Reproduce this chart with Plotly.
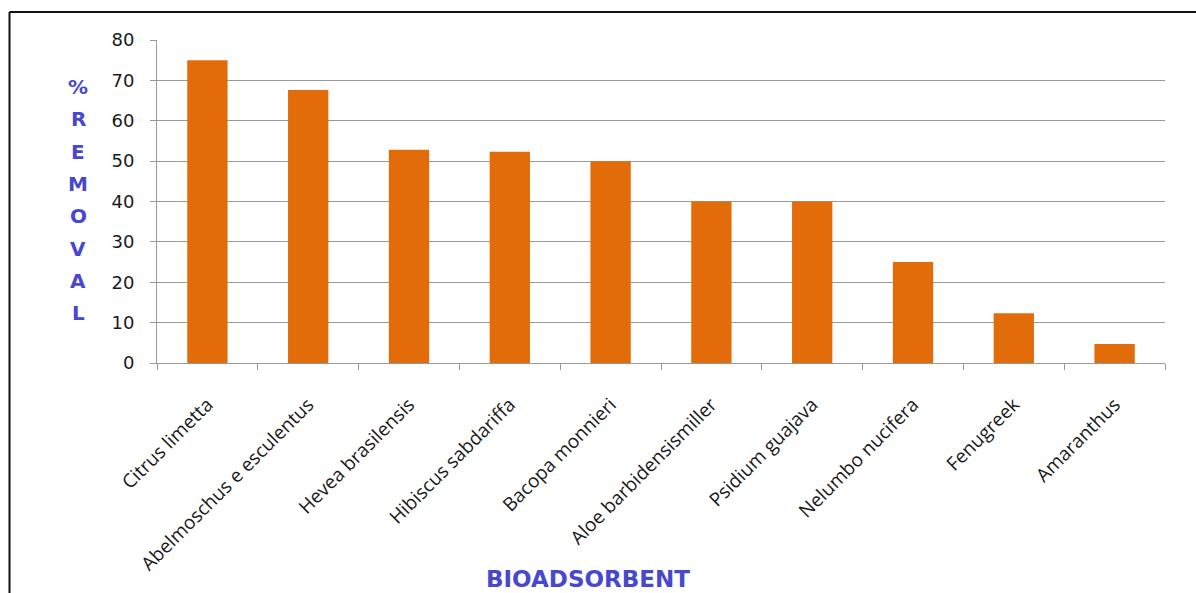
import plotly.graph_objects as go

categories = ["Citrus limetta", "Abelmoschus e esculentus", "Hevea brasilensis",
              "Hibiscus sabdariffa", "Bacopa monnieri", "Aloe barbidensismiller",
              "Psidium guajava", "Nelumbo nucifera", "Fenugreek", "Amaranthus"]
removal = [75, 67.6, 52.8, 52.3, 50, 40, 40, 25, 12.3, 4.7]
y_ticks = [0, 10, 20, 30, 40, 50, 60, 70, 80]
y_title_letters = ["%", "R", "E", "M", "O", "V", "A", "L"]
x_title = "BIOADSORBENT"

W, H = 1196, 593
L, R, T, B = 157, 31, 40, 230
pw, ph = W - L - R, H - T - B

def px(x):
    return (x - L) / pw

def py(y):
    return (H - B - y) / ph

BLUE = "#4848CE"

fig = go.Figure(go.Bar(x=categories, y=removal, marker=dict(color="#E36C0A", line=dict(width=0))))

annotations = []
for i, ch in enumerate(y_title_letters):
    annotations.append(dict(text=ch, x=px(78), y=py(87 + i * 32.3), xref="paper", yref="paper",
                            showarrow=False, xanchor="center", yanchor="middle",
                            font=dict(family="DejaVu Sans", size=20, color=BLUE, weight="bold")))
annotations.append(dict(text=x_title, x=px(588), y=py(579), xref="paper", yref="paper",
                        showarrow=False, xanchor="center", yanchor="middle",
                        font=dict(family="DejaVu Sans", size=23, color=BLUE, weight="bold")))

shapes = [
    dict(type="line", xref="paper", yref="paper", x0=px(9.5), x1=px(1210), y0=py(12), y1=py(12),
         line=dict(color="#111", width=2)),
    dict(type="line", xref="paper", yref="paper", x0=px(9.5), x1=px(9.5), y0=py(12), y1=py(610),
         line=dict(color="#111", width=2)),
]

fig.update_layout(
    width=W, height=H, margin=dict(l=L, r=R, t=T, b=B, autoexpand=False),
    paper_bgcolor="white", plot_bgcolor="white", showlegend=False,
    bargap=0.6, annotations=annotations, shapes=shapes,
    xaxis=dict(tickangle=-45, showline=True, linecolor="#999", linewidth=1,
               ticks="outside", tickson="boundaries", ticklen=6, tickcolor="#999",
               tickfont=dict(family="Open Sans", size=19, color="#1a1a1a"), automargin=False,
               ticklabelstandoff=22, showgrid=False),
    yaxis=dict(range=[0, 80], tickvals=y_ticks, showline=True, linecolor="#999", linewidth=1,
               ticks="outside", ticklen=6, tickcolor="#999", gridcolor="#999", gridwidth=1,
               tickfont=dict(family="DejaVu Sans", size=18, color="#1a1a1a"), automargin=False,
               ticklabelstandoff=12, zeroline=False),
)

fig.write_html("out.html")
